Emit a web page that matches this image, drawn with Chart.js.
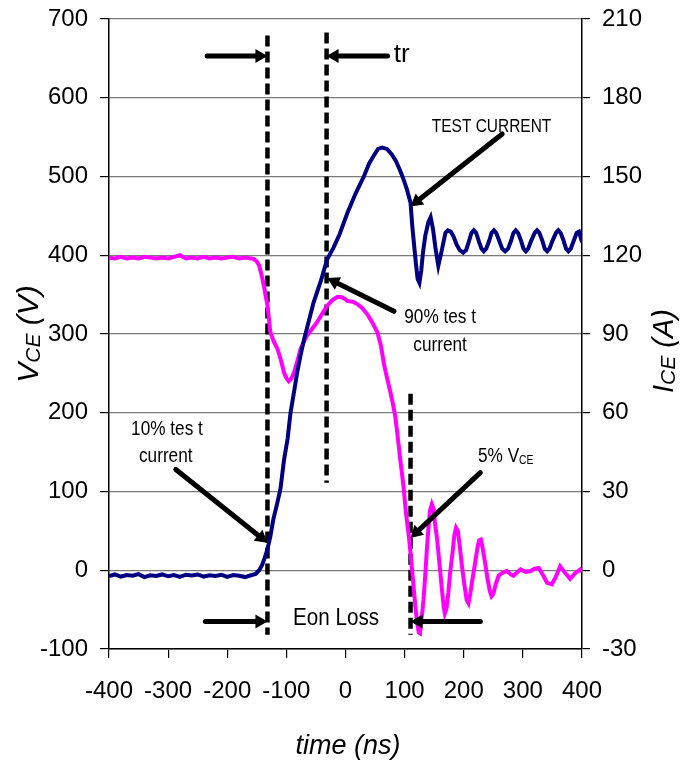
<!DOCTYPE html>
<html>
<head>
<meta charset="utf-8">
<script src="https://cdn.jsdelivr.net/npm/chart.js@4.4.1/dist/chart.umd.min.js"></script>
<style>
  html, body { margin: 0; padding: 0; background: #fff; }
  #wrap { width: 694px; height: 766px; }
</style>
</head>
<body>
<div id="wrap"><canvas id="turnOnChart" width="694" height="766"></canvas></div>
<script>
// collector current trace (time ns -> A, right axis)
var timeIce = [-400,-390,-380,-370,-360,-350,-340,-330,-320,-310,-300,-290,-280,-270,-260,-250,-240,-230,-220,-210,-200,-190,-180,-170,-160,-152,-146,-141,-137,-132,-127,-122,-116,-110,-104,-98,-93,-87,-82,-76,-70,-62,-54,-42,-31,-20,-10,3,17,31,40,48,55,62,70,78,85,92,98,104,110,113,116,119,122,125,128,131,135,140,144,148,152,157,162,169,173,178,183,188,193,199,204,209,213,217,221,226,230,234,238,243,247,251,255,260,265,270,275,280,284,288,292,297,301,305,309,314,320,324,328,333,337,341,345,350,356,360,364,369,373,377,381,386,391,395,400];
var iceValues = [-2.2,-1.6,-2.4,-1.8,-2.1,-1.5,-2.6,-1.9,-2.2,-1.6,-2.3,-1.8,-2.5,-1.7,-2.0,-1.6,-2.4,-1.9,-2.2,-1.7,-2.5,-1.8,-2.1,-2.6,-1.9,-1.4,0,2,4.5,8,13,19.5,25,31,42,50,60,68,75,82,88,95,102,110,118.5,123,128,136,143.5,150,155,158,160.5,161,160.5,158.5,156,152.5,149,145,140,131,124,117,111,109.5,114,121,127.5,132.5,134.5,130,123,116,121,128.5,129.5,129,127,124,122,121,122,125.5,128.5,129.5,128.5,125,122.5,121.5,122.5,125.5,128.5,129.5,128.5,125.5,122.5,121.5,122.5,125.5,128.5,129.5,128.5,125.5,122.5,121.5,122.5,125.5,128.5,129.5,128.5,125.5,122.5,121.5,122.5,125.5,128.5,129.5,128.5,125.5,122.5,121.5,122.5,125.5,128.5,129,125];

// collector-emitter voltage trace (time ns -> V, left axis)
var timeVce = [-400,-390,-380,-370,-360,-350,-340,-330,-320,-310,-300,-290,-280,-270,-260,-250,-240,-230,-220,-210,-200,-190,-180,-170,-160,-155,-150,-146,-142,-138,-132,-127,-121,-115,-109,-104,-100,-96,-92,-87,-82,-76,-70,-65,-56,-48,-40,-31,-22,-14,-8,-2,3,12,20,28,37,45,54,60,65,70,76,80,84,87,90,93,96,99,101,104,107,110,113,116,118,121,124,126,128,130,132,135,138,141,143,146,149,151,155,159,163,166,168,171,174,177,181,184,187,190,193,197,201,205,208,211,215,219,223,226,229,232,236,240,244,247,250,254,259,266,273,279,284,290,296,305,313,320,327,334,341,349,356,363,371,380,388,397,400];
var vceValues = [397,396,398,396,397,396,398,397,396,397,396,398,400,396,397,396,398,396,397,396,397,398,396,397,396,395,392,387,375,361,336,302,290,281,266,251,244,240,243,251,264,281,291,298,307,315,325,336,343,347,347,345,342,341,338,333,325,315,302,285,262,245,226,212,196,178,158,138,120,100,82,62,44,22,-3,-28,-45,-65,-79,-80,-65,-52,-37,-5,31,60,76,84,78,62,39,8,-24,-46,-55,-48,-28,-3,22,44,54,50,32,5,-18,-38,-42,-30,-10,8,28,38,39,28,10,-10,-26,-33,-30,-18,-7,-3,-1,-5,-7,-3,1,-2,-1,2,3,-6,-16,-18,-8,5,-3,-11,-4,1,-2];

// dashed markers: time, top V, bottom V
var markerTimes = [-132, -32, 110];
var markerTops = [679, 683, 224];
var markerBottoms = [-82, 111, -82];

// arrows in data units [time, V]
var arrowTails = [[-234, 653], [71, 653], [-237, -65], [228, -65], [265, 554], [82, 329], [-287, 128], [228, 124]];
var arrowHeads = [[-132, 653], [-32, 653], [-132, -65], [110, -65], [110, 462], [-31, 371], [-132, 35], [110, 41]];

// text notes [text, subscript, time, V (baseline), font size]
var notes = [
    ['TEST CURRENT', '', 247, 557, 18],
    ['tr', '', 95, 646, 26],
    ['Eon Loss', '', -16, -69, 24],
    ['90% tes t', '', 160, 314, 20],
    ['current', '', 160, 279, 20],
    ['10% tes t', '', -302, 172, 20],
    ['current', '', -304, 138, 20],
    ['5% V', 'CE', 271, 138, 20]
];

var xTicks = [-400, -300, -200, -100, 0, 100, 200, 300, 400];

var fontFamily = "'Liberation Sans', Arial, sans-serif";

function drawArrow(ctx, x0, y0, x1, y1) {
    var ang = Math.atan2(y1 - y0, x1 - x0);
    var headLen = 12, headHalf = 7;
    var bx = x1 - headLen * Math.cos(ang), by = y1 - headLen * Math.sin(ang);
    ctx.beginPath();
    ctx.lineWidth = 5;
    ctx.lineCap = 'round';
    ctx.moveTo(x0, y0);
    ctx.lineTo(bx + 2 * Math.cos(ang), by + 2 * Math.sin(ang));
    ctx.stroke();
    ctx.beginPath();
    ctx.moveTo(x1, y1);
    ctx.lineTo(bx + headHalf * Math.sin(ang), by - headHalf * Math.cos(ang));
    ctx.lineTo(bx - headHalf * Math.sin(ang), by + headHalf * Math.cos(ang));
    ctx.closePath();
    ctx.fill();
}

// draw main text + smaller subscript, centred on cx
function drawSubText(ctx, cx, baseY, main, sub, size, subSize, rest, squeeze, italic) {
    var st = italic ? 'italic ' : '';
    ctx.font = st + size + 'px ' + fontFamily;
    var w1 = ctx.measureText(main).width;
    ctx.font = st + subSize + 'px ' + fontFamily;
    var w2 = sub ? ctx.measureText(sub).width : 0;
    ctx.font = st + size + 'px ' + fontFamily;
    var w3 = rest ? ctx.measureText(rest).width : 0;
    var total = (w1 + w2 + w3) * squeeze;
    ctx.save();
    ctx.translate(cx - total / 2, baseY);
    ctx.scale(squeeze, 1);
    ctx.textAlign = 'left';
    ctx.textBaseline = 'alphabetic';
    ctx.fillText(main, 0, 0);
    if (sub) {
        ctx.font = st + subSize + 'px ' + fontFamily;
        ctx.fillText(sub, w1, 2);
    }
    if (rest) {
        ctx.font = st + size + 'px ' + fontFamily;
        ctx.fillText(rest, w1 + w2, 0);
    }
    ctx.restore();
}

var annotationPlugin = {
    id: 'annotations',
    afterDatasetsDraw: function(chart) {
        var ctx = chart.ctx;
        var xs = chart.scales.x, ys = chart.scales.y;
        ctx.save();
        ctx.fillStyle = '#000';
        ctx.strokeStyle = '#000';
        for (var i = 0; i < arrowTails.length; i++) {
            drawArrow(ctx,
                xs.getPixelForValue(arrowTails[i][0]), ys.getPixelForValue(arrowTails[i][1]),
                xs.getPixelForValue(arrowHeads[i][0]), ys.getPixelForValue(arrowHeads[i][1]));
        }
        notes.forEach(function(n) {
            var squeeze = n[0] === 'tr' ? 1 : 0.86;
            drawSubText(ctx, xs.getPixelForValue(n[2]), ys.getPixelForValue(n[3]), n[0], n[1], n[4], 12, '', squeeze, false);
        });
        ctx.restore();
    },
    afterDraw: function(chart) {
        var ctx = chart.ctx;
        ctx.save();
        ctx.fillStyle = '#000';
        // left axis title
        ctx.save();
        ctx.translate(38, 334);
        ctx.rotate(-Math.PI / 2);
        drawSubText(ctx, 0, 0, 'V', 'CE', 30, 21, ' (V)', 1, true);
        ctx.restore();
        // right axis title
        ctx.save();
        ctx.translate(673, 351);
        ctx.rotate(-Math.PI / 2);
        drawSubText(ctx, 0, 0, 'I', 'CE', 29, 21, ' (A)', 1, true);
        ctx.restore();
        // bottom axis title
        drawSubText(ctx, 348, 754, 'time (ns)', '', 27, 20, '', 1, true);
        ctx.restore();
    }
};

var markerSets = markerTimes.map(function(t, i) {
    return {
        label: 'marker' + i,
        data: [{ x: t, y: markerTops[i] }, { x: t, y: markerBottoms[i] }],
        yAxisID: 'y',
        borderColor: '#000',
        borderWidth: 4.5,
        borderDash: [11, 5],
        borderCapStyle: 'butt',
        pointRadius: 0,
        order: 3
    };
});

function noVerticalPad(scale) {
    scale.paddingTop = 0;
    scale.paddingBottom = 0;
}

var ctx = document.getElementById('turnOnChart').getContext('2d');
var chart = new Chart(ctx, {
    type: 'line',
    data: {
        datasets: [{
            label: 'ICE',
            data: timeIce.map(function(t, i) { return { x: t, y: iceValues[i] }; }),
            yAxisID: 'y2',
            borderColor: '#000080',
            borderWidth: 4,
            pointRadius: 0,
            tension: 0,
            order: 1
        }, {
            label: 'VCE',
            data: timeVce.map(function(t, i) { return { x: t, y: vceValues[i] }; }),
            yAxisID: 'y',
            borderColor: '#ff00ff',
            borderWidth: 4,
            pointRadius: 0,
            tension: 0,
            order: 2
        }].concat(markerSets)
    },
    options: {
        responsive: false,
        animation: false,
        layout: { padding: { top: 19, left: 0, right: 0, bottom: 0 } },
        plugins: {
            legend: { display: false },
            tooltip: { enabled: false }
        },
        scales: {
            x: {
                type: 'linear',
                min: -400,
                max: 400,
                afterBuildTicks: function(scale) {
                    scale.ticks = xTicks.map(function(v) { return { value: v }; });
                },
                ticks: {
                    color: '#000',
                    font: { family: fontFamily, size: 24 },
                    padding: 19,
                    maxRotation: 0,
                    autoSkip: false
                },
                grid: { drawOnChartArea: false, tickLength: 9, tickColor: '#000', lineWidth: 1.2 },
                border: { color: '#000', width: 1.5 },
                afterFit: function(scale) {
                    scale.height = 117;
                    scale.paddingLeft = 0;
                    scale.paddingRight = 0;
                }
            },
            y: {
                position: 'left',
                min: -100,
                max: 700,
                ticks: {
                    stepSize: 100,
                    color: '#000',
                    font: { family: fontFamily, size: 24 },
                    padding: 12
                },
                grid: { color: '#7a7a7a', lineWidth: 1.2, tickLength: 9, tickColor: '#000' },
                border: { color: '#000', width: 1.5 },
                afterFit: function(scale) { scale.width = 109; noVerticalPad(scale); }
            },
            y2: {
                position: 'right',
                min: -30,
                max: 210,
                ticks: {
                    stepSize: 30,
                    color: '#000',
                    font: { family: fontFamily, size: 24 },
                    padding: 12
                },
                grid: { drawOnChartArea: false, tickLength: 8, tickColor: '#000', lineWidth: 1.2 },
                border: { color: '#000', width: 1.5 },
                afterFit: function(scale) { scale.width = 112; noVerticalPad(scale); }
            }
        }
    },
    plugins: [annotationPlugin]
});
</script>
</body>
</html>
